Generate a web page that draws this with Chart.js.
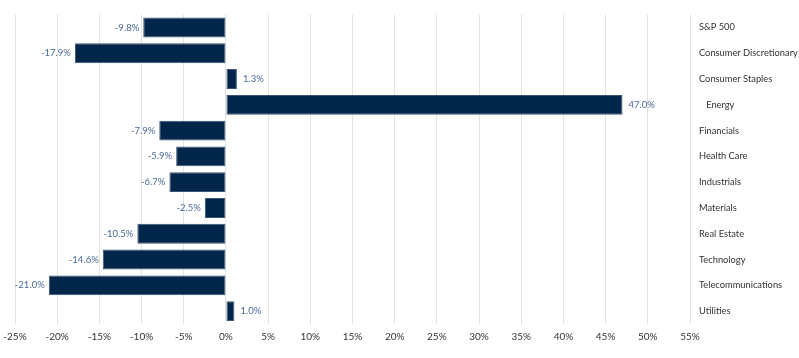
<!DOCTYPE html>
<html>
<head>
<meta charset="utf-8">
<script src="https://cdn.jsdelivr.net/npm/chart.js@4.4.1/dist/chart.umd.min.js"></script>
<style>
  html, body { margin: 0; padding: 0; background: #fff; }
  #wrap { width: 799px; height: 358px; }
</style>
</head>
<body>
<div id="wrap"><canvas id="myChart"></canvas></div>
<script>
const sectors = ['S&P 500', 'Consumer Discretionary', 'Consumer Staples', '   Energy', 'Financials',
  'Health Care', 'Industrials', 'Materials', 'Real Estate', 'Technology', 'Telecommunications', 'Utilities'];
const returns = [-9.8, -17.9, 1.3, 47.0, -7.9, -5.9, -6.7, -2.5, -10.5, -14.6, -21.0, 1.0];
const xTicks = [-25, -20, -15, -10, -5, 0, 5, 10, 15, 20, 25, 30, 35, 40, 45, 50, 55];

const labelFont = 'Lato, "Open Sans", sans-serif';

// draws the value next to the end of each bar
const barLabels = {
  id: 'barLabels',
  afterDatasetsDraw(chart) {
    const ctx = chart.ctx;
    const meta = chart.getDatasetMeta(0);
    ctx.save();
    ctx.font = '9.5px ' + labelFont;
    ctx.fillStyle = '#4a6a98';
    ctx.textBaseline = 'middle';
    meta.data.forEach((bar, i) => {
      const v = returns[i];
      const txt = v.toFixed(1) + '%';
      if (v < 0) {
        ctx.textAlign = 'right';
        ctx.fillText(txt, bar.x - 4, bar.y);
      } else {
        ctx.textAlign = 'left';
        ctx.fillText(txt, bar.x + 6, bar.y);
      }
    });
    ctx.restore();
  }
};

const ctx = document.getElementById('myChart');

new Chart(ctx, {
  type: 'bar',
  data: {
    labels: sectors,
    datasets: [{
      data: returns,
      backgroundColor: '#02254a',
      borderColor: '#3c5473',
      borderWidth: 1,
      borderSkipped: false,
      barPercentage: 0.77,
      categoryPercentage: 1
    }]
  },
  options: {
    indexAxis: 'y',
    responsive: true,
    maintainAspectRatio: false,
    animation: false,
    layout: {
      padding: { top: 14, bottom: 6, left: 0, right: 0 }
    },
    plugins: {
      legend: { display: false },
      title: { display: false },
      tooltip: { enabled: false }
    },
    scales: {
      x: {
        min: -25,
        max: 55,
        afterBuildTicks: (scale) => {
          scale.ticks = xTicks.map(v => ({ value: v }));
        },
        afterFit: (scale) => {
          scale.height = 28;
          scale.paddingLeft = 15;
        },
        border: { display: false },
        grid: {
          color: '#e3e3e3',
          drawTicks: false
        },
        ticks: {
          padding: 7,
          color: '#333333',
          font: { family: labelFont, size: 10 },
          callback: (v) => v + '%'
        }
      },
      y: {
        position: 'right',
        afterFit: (scale) => { scale.width = 109; },
        border: { display: false },
        grid: { display: false, drawTicks: false },
        ticks: {
          padding: 9,
          color: '#333333',
          font: { family: labelFont, size: 9.3 }
        }
      }
    }
  },
  plugins: [barLabels]
});
</script>
</body>
</html>
